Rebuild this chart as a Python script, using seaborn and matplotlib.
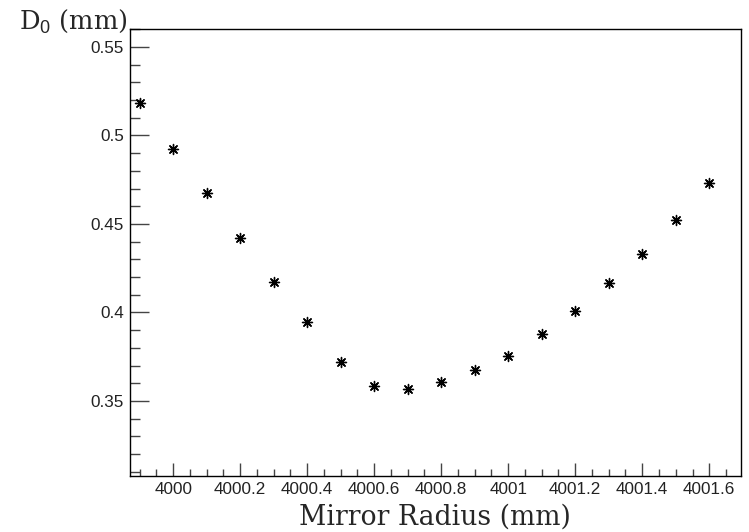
import numpy as np
import pandas as pd
import matplotlib
matplotlib.use("Agg")
import matplotlib.pyplot as plt
import seaborn as sns
from matplotlib.ticker import MultipleLocator

# mirror radius (mm) and D0 (mm)
radius = [3999.9, 4000.0, 4000.1, 4000.2, 4000.3, 4000.4, 4000.5, 4000.6, 4000.7,
          4000.8, 4000.9, 4001.0, 4001.1, 4001.2, 4001.3, 4001.4, 4001.5, 4001.6]
d0 = [0.5182, 0.4925, 0.4672, 0.4421, 0.4173, 0.3944, 0.3719, 0.3583, 0.3570,
      0.3608, 0.3674, 0.3755, 0.3876, 0.4007, 0.4164, 0.4332, 0.4525, 0.4731]
xticks = [4000, 4000.2, 4000.4, 4000.6, 4000.8, 4001, 4001.2, 4001.4, 4001.6]
xticklabels = ["4000", "4000.2", "4000.4", "4000.6", "4000.8", "4001", "4001.2", "4001.4", "4001.6"]
yticks = [0.35, 0.4, 0.45, 0.5, 0.55]
yticklabels = ["0.35", "0.4", "0.45", "0.5", "0.55"]

df = pd.DataFrame({"radius": radius, "d0": d0})

sns.set_style("ticks")
plt.rcParams["font.family"] = ["Liberation Sans", "DejaVu Sans"]
plt.rcParams["mathtext.fontset"] = "custom"
plt.rcParams["mathtext.rm"] = "Liberation Sans"

fig = plt.figure(figsize=(7.49, 5.32), dpi=100)
ax = fig.add_axes([0.173, 0.105, 0.816, 0.841])

sns.scatterplot(data=df, x="radius", y="d0", marker=(8, 2, 0), color="black",
                s=52, linewidth=1.0, ax=ax, legend=False)

ax.set_xlim(3999.87, 4001.694)
ax.set_ylim(0.3075, 0.5603)
ax.set_xticks(xticks)
ax.set_xticklabels(xticklabels)
ax.set_yticks(yticks)
ax.set_yticklabels(yticklabels)
ax.xaxis.set_minor_locator(MultipleLocator(0.05))
ax.yaxis.set_minor_locator(MultipleLocator(0.01))

ax.tick_params(axis="x", which="major", direction="in", length=9.5, width=1,
               labelsize=12.3, pad=4, color="#444444", labelcolor="#222222")
ax.tick_params(axis="x", which="minor", direction="in", length=5, width=1, color="#444444")
ax.tick_params(axis="y", which="major", direction="in", length=14, width=1,
               labelsize=12.3, pad=4, color="#444444", labelcolor="#222222")
ax.tick_params(axis="y", which="minor", direction="in", length=7, width=1, color="#444444")

for sp in ax.spines.values():
    sp.set_linewidth(1)
    sp.set_color("black")

ax.set_xlabel("Mirror Radius (mm)", family="DejaVu Serif", fontsize=19.2, labelpad=5)
ax.set_ylabel("")
fig.text(0.171, 0.947, r"D$_{0}$ (mm)", family="DejaVu Serif", fontsize=18.5,
         ha="right", va="baseline")

fig.savefig("out.png", dpi=100)
